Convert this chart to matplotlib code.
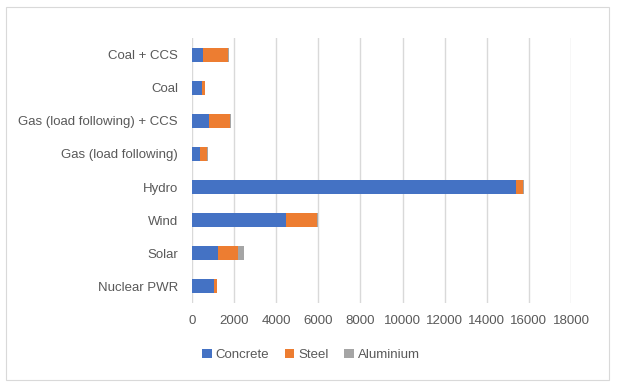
import matplotlib.pyplot as plt
from matplotlib.patches import Rectangle

# Data
categories = ['Nuclear PWR', 'Solar', 'Wind', 'Hydro', 'Gas (load following)',
              'Gas (load following) + CCS', 'Coal', 'Coal + CCS']
concrete = [1030, 1220, 4460, 15370, 370, 800, 470, 500]
steel = [140, 950, 1490, 330, 350, 1000, 160, 1210]
aluminium = [40, 290, 30, 50, 20, 35, 10, 40]
x_ticks = list(range(0, 18001, 2000))

colors = {'Concrete': '#4472C4', 'Steel': '#ED7D31', 'Aluminium': '#A5A5A5'}

plt.rcParams['font.family'] = ['Liberation Sans', 'DejaVu Sans']

fig = plt.figure(figsize=(6.18, 3.87), dpi=100)
ax = fig.add_axes([192 / 618, 1 - 303 / 387, (571 - 192) / 618, (303 - 38) / 387])

# chart border
fig.patches.append(Rectangle((6 / 618, 7 / 387), 603 / 618, 373 / 387, transform=fig.transFigure,
                             fill=False, edgecolor='#D9D9D9', linewidth=0.8))

y = range(len(categories))
left = [0] * len(categories)
for name, vals in [('Concrete', concrete), ('Steel', steel), ('Aluminium', aluminium)]:
    ax.barh(y, vals, left=left, height=0.42, color=colors[name], label=name)
    left = [a + b for a, b in zip(left, vals)]

ax.set_xlim(0, 18000)
ax.set_ylim(-0.5, len(categories) - 0.5)
ax.set_xticks(x_ticks)
ax.set_xticklabels([str(t) for t in x_ticks])
ax.set_yticks(list(y))
ax.set_yticklabels(categories)
ax.grid(axis='x', color='#D9D9D9', linewidth=1)
ax.set_axisbelow(True)
for s in ax.spines.values():
    s.set_visible(False)
ax.tick_params(length=0, labelsize=9.5, colors='#595959')
ax.tick_params(axis='y', pad=10)
ax.tick_params(axis='x', pad=9)

handles, labels = ax.get_legend_handles_labels()
fig.legend(handles, labels, loc='center', bbox_to_anchor=(311 / 618, 1 - 355 / 387), ncol=3,
           frameon=False, fontsize=9.5, handlelength=0.7, handleheight=0.7, columnspacing=1.2,
           handletextpad=0.3, labelcolor='#595959')

fig.savefig('out.png', dpi=100)
